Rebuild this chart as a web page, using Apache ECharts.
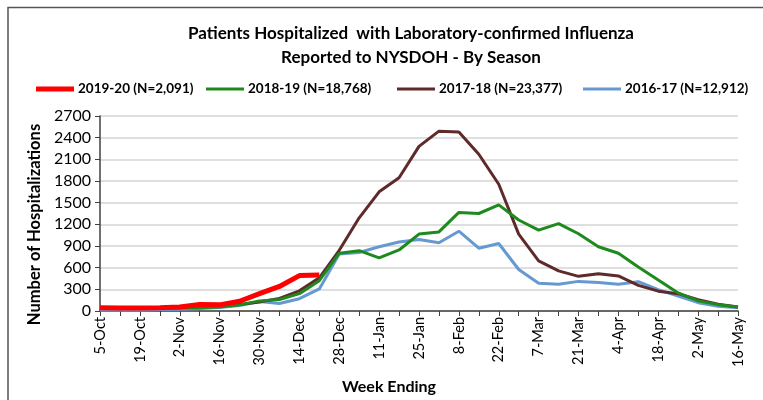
<!DOCTYPE html>
<html>
<head>
<meta charset="utf-8">
<script src="https://cdn.jsdelivr.net/npm/echarts@6/dist/echarts.min.js"></script>
<style>
  html, body { margin: 0; padding: 0; background: #fff; }
  #chart { width: 763px; height: 400px; }
</style>
</head>
<body>
<div id="chart"></div>
<script>
// weeks ending, 5-Oct .. 16-May
const weeks = ['5-Oct', '12-Oct', '19-Oct', '26-Oct', '2-Nov', '9-Nov', '16-Nov', '23-Nov', '30-Nov', '7-Dec',
  '14-Dec', '21-Dec', '28-Dec', '4-Jan', '11-Jan', '18-Jan', '25-Jan', '1-Feb', '8-Feb', '15-Feb',
  '22-Feb', '1-Mar', '7-Mar', '14-Mar', '21-Mar', '28-Mar', '4-Apr', '11-Apr', '18-Apr', '25-Apr',
  '2-May', '9-May', '16-May']

const season1920 = [45, 40, 40, 45, 55, 90, 85, 135, 240, 340, 490, 500]
const season1819 = [40, 35, 35, 35, 40, 45, 55, 85, 140, 160, 240, 420, 800, 835, 735, 845, 1065, 1095, 1365, 1350,
  1470, 1260, 1120, 1210, 1070, 890, 800, 610, 430, 250, 140, 88, 55]
const season1718 = [40, 40, 40, 45, 50, 60, 70, 90, 125, 175, 280, 460, 840, 1290, 1650, 1845, 2280, 2490, 2480, 2170,
  1755, 1065, 695, 555, 480, 515, 485, 355, 275, 240, 155, 95, 55]
const season1617 = [15, 15, 15, 20, 25, 35, 50, 75, 130, 105, 170, 305, 790, 810, 890, 955, 990, 945, 1105, 870,
  935, 575, 385, 370, 410, 395, 370, 405, 295, 205, 115, 65, 45]

const seriesNames = ['2019-20 (N=2,091)', '2018-19 (N=18,768)', '2017-18 (N=23,377)', '2016-17 (N=12,912)']
const colors = ['#ff0000', '#1e8a1e', '#5e2a2a', '#6699d0']
const legendLeft = [31, 201, 392, 578]

const font = 'Lato, "Open Sans", sans-serif'

let chart = echarts.init(document.getElementById('chart'))

// 每个图例单独放，间距跟原图一样
const legends = seriesNames.map((name, i) => ({
  left: legendLeft[i],
  top: 77,
  itemWidth: 38,
  itemHeight: i == 0 ? 5 : 3,
  itemGap: 5,
  icon: 'rect',
  data: [name],
  textStyle: { fontFamily: font, fontWeight: 'bold', fontSize: 13.5, color: '#000', padding: [0, 0, 0, -1] }
}))

const seriesData = [season1920, season1819, season1718, season1617]

let option = {
  backgroundColor: '#fff',
  animation: false,
  title: {
    text: 'Patients Hospitalized  with Laboratory-confirmed Influenza\nReported to NYSDOH - By Season',
    left: 406,
    textAlign: 'center',
    top: 17,
    textStyle: { fontFamily: font, fontWeight: 'bold', fontSize: 17, color: '#000', lineHeight: 24 }
  },
  legend: legends,
  grid: { left: 100, right: 25, top: 116, bottom: 89 },
  xAxis: {
    type: 'category',
    data: weeks,
    boundaryGap: false,
    name: 'Week Ending',
    nameLocation: 'middle',
    nameGap: 68,
    nameTextStyle: { fontFamily: font, fontWeight: 'bold', fontSize: 16, color: '#000', padding: [0, 60, 0, 0] },
    axisLine: { lineStyle: { color: '#404040', width: 1.5 } },
    axisTick: { show: true, interval: 0, length: 5, lineStyle: { color: '#404040' } },
    axisLabel: {
      interval: 1,
      rotate: 90,
      margin: 6,
      fontFamily: font,
      fontSize: 14.5,
      color: '#000'
    },
    splitLine: { show: false }
  },
  yAxis: {
    type: 'value',
    min: 0,
    max: 2700,
    interval: 300,
    name: 'Number of Hospitalizations',
    nameLocation: 'middle',
    nameGap: 57,
    // 往下挪一点，和原图对齐
    nameTextStyle: { fontFamily: font, fontWeight: 'bold', fontSize: 16.5, color: '#000', padding: [0, 22, 0, 0] },
    axisLine: { show: true, lineStyle: { color: '#404040', width: 1.5 } },
    axisTick: { show: true, length: 5, lineStyle: { color: '#404040' } },
    axisLabel: { fontFamily: font, fontSize: 16, color: '#000', margin: 9, formatter: (v) => String(v) },
    splitLine: { lineStyle: { color: '#d4d4d4', width: 1.5 } }
  },
  series: seriesData.map((d, i) => ({
    name: seriesNames[i],
    type: 'line',
    data: d,
    symbol: 'none',
    z: 10 - i,
    lineStyle: { color: colors[i], width: i == 0 ? 5 : 3 },
    itemStyle: { color: colors[i] }
  })),
  graphic: [
    {
      type: 'polyline',
      shape: { points: [[8, 400], [8, 7.5], [763, 7.5]] },
      style: { stroke: '#555', lineWidth: 1.5, fill: null }
    }
  ]
}

chart.setOption(option)
</script>
</body>
</html>
